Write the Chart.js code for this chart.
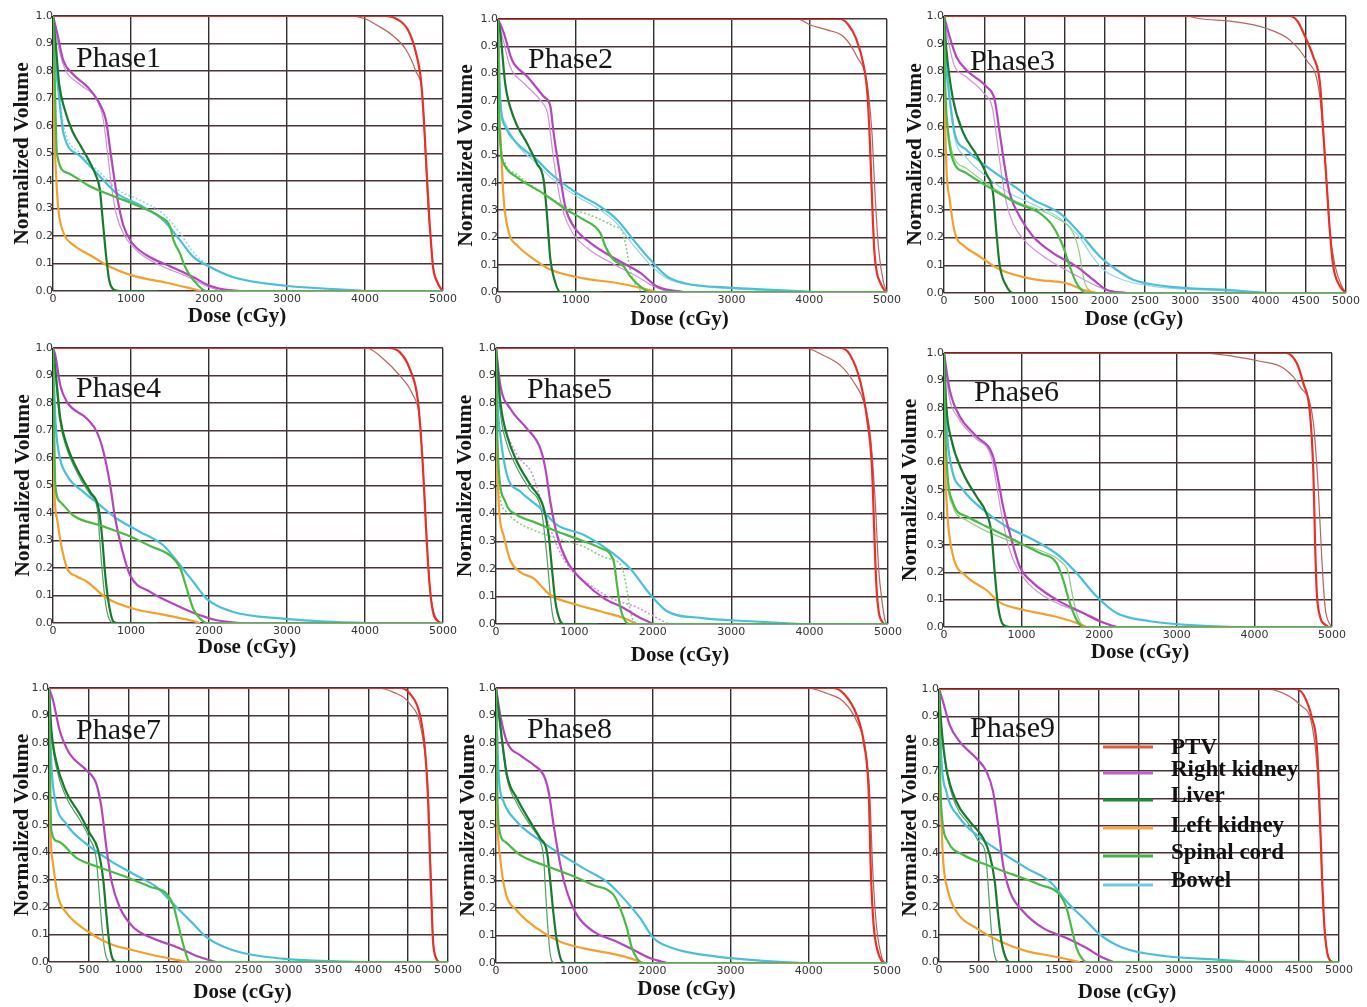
<!DOCTYPE html>
<html><head><meta charset="utf-8">
<script src="https://cdn.jsdelivr.net/npm/chart.js@4.4.1/dist/chart.umd.min.js"></script>
<style>
html,body{margin:0;padding:0;background:#fff;width:1367px;height:1007px;overflow:hidden;position:relative}
canvas{position:absolute}
</style></head><body>
<script>
// ---------------- DATA ----------------
const ORGANS = ['PTV','Right kidney','Liver','Left kidney','Spinal cord','Bowel'];
const PHASES = ['Phase1','Phase2','Phase3','Phase4','Phase5','Phase6','Phase7','Phase8','Phase9'];
const X_TITLE = 'Dose (cGy)';
const Y_TITLE = 'Normalized Volume';
const DOSE_TICKS_1000 = [0,1000,2000,3000,4000,5000];
const DOSE_TICKS_500 = [0,500,1000,1500,2000,2500,3000,3500,4000,4500,5000];
const VOLUME_TICKS = [0,0.1,0.2,0.3,0.4,0.5,0.6,0.7,0.8,0.9,1.0];

// Phase 1  [dose cGy, normalized volume]
const P1_PTV = [[0,1],[4250,1],[4400,0.99],[4550,0.95],[4650,0.87],[4720,0.76],[4755,0.62],[4778,0.5],[4805,0.36],[4829,0.245],[4850,0.16],[4872,0.087],[4936,0.027],[5000,0]];
const P1_PTV_b = [[0,1],[3800,1],[4000,0.99],[4150,0.967],[4350,0.93],[4520,0.88],[4650,0.8],[4740,0.7],[4775,0.5],[4810,0.3],[4840,0.2],[4880,0.08],[4930,0.03],[4980,0]];
const P1_RK = [[0,1],[60,0.93],[130,0.84],[250,0.79],[450,0.74],[600,0.68],[680,0.62],[730,0.52],[780,0.42],[830,0.33],[900,0.24],[1000,0.18],[1200,0.13],[1500,0.09],[1800,0.05],[2000,0.02],[2200,0.005],[2400,0]];
const P1_RK_b = [[0,1],[60,0.9],[150,0.81],[350,0.75],[550,0.7],[640,0.63],[700,0.5],[750,0.38],[820,0.27],[920,0.2],[1100,0.14],[1400,0.09],[1700,0.055],[1950,0.02],[2150,0]];
const P1_LIV = [[0,1],[40,0.88],[80,0.75],[150,0.66],[250,0.58],[350,0.53],[450,0.48],[550,0.42],[600,0.37],[640,0.25],[680,0.13],[720,0.04],[780,0.005],[850,0],[1350,0]];
const P1_LK = [[0,1],[15,0.62],[40,0.42],[72,0.29],[137,0.21],[250,0.17],[478,0.13],[734,0.087],[1032,0.055],[1459,0.03],[1715,0.013],[1900,0]];
const P1_SC = [[0,1],[20,0.8],[50,0.5],[180,0.43],[478,0.38],[820,0.34],[1118,0.306],[1374,0.27],[1500,0.235],[1545,0.185],[1630,0.135],[1694,0.087],[1800,0.04],[1970,0],[5000,0]];
const P1_BOW = [[0,1],[30,0.85],[72,0.72],[137,0.57],[350,0.49],[605,0.415],[820,0.354],[1118,0.312],[1416,0.257],[1630,0.184],[1800,0.124],[2013,0.087],[2312,0.05],[2952,0.02],[3592,0.007],[4018,0]];
const P1_BOW_b = [[0,1],[30,0.86],[72,0.74],[137,0.6],[350,0.5],[605,0.43],[820,0.37],[1118,0.33],[1416,0.28],[1630,0.21],[1800,0.14],[2013,0.09],[2312,0.05],[2952,0.02],[4000,0]];

// Phase 2
const P2_PTV = [[0,1],[4400,1],[4500,0.98],[4600,0.93],[4700,0.83],[4750,0.72],[4780,0.55],[4800,0.4],[4820,0.25],[4840,0.14],[4870,0.07],[4920,0.03],[4970,0.005],[5000,0]];
const P2_PTV_b = [[0,1],[3843,1],[4015,0.978],[4229,0.96],[4443,0.935],[4614,0.862],[4743,0.765],[4807,0.58],[4850,0.34],[4893,0.155],[4957,0.033],[5000,0]];
const P2_RK = [[0,1],[73,0.95],[180,0.85],[373,0.79],[587,0.716],[673,0.68],[716,0.58],[780,0.46],[866,0.31],[973,0.24],[1187,0.18],[1530,0.118],[1830,0.07],[2044,0.02],[2386,0]];
const P2_RK_b = [[0,1],[70,0.92],[150,0.83],[350,0.76],[550,0.7],[640,0.65],[700,0.52],[760,0.4],[830,0.3],[950,0.22],[1150,0.16],[1500,0.1],[1800,0.055],[2000,0.02],[2200,0]];
const P2_LIV = [[0,1],[30,0.95],[94,0.76],[201,0.64],[373,0.545],[501,0.47],[587,0.41],[630,0.28],[673,0.12],[716,0.055],[800,0],[1350,0]];
const P2_LK = [[0,1],[10,0.7],[30,0.58],[73,0.34],[137,0.22],[250,0.17],[416,0.13],[673,0.082],[1100,0.05],[1530,0.033],[1872,0.013],[2044,0]];
const P2_SC = [[0,1],[10,0.75],[21,0.58],[94,0.46],[244,0.42],[587,0.36],[887,0.3],[1101,0.265],[1315,0.216],[1380,0.167],[1487,0.118],[1615,0.094],[1700,0.057],[1830,0.02],[1958,0],[5000,0]];
const P2_SC_b = [[0,1],[10,0.75],[21,0.6],[94,0.47],[244,0.43],[587,0.36],[887,0.31],[1200,0.28],[1500,0.24],[1600,0.22],[1650,0.16],[1700,0.08],[1760,0.03],[1850,0]];
const P2_BOW = [[0,1],[30,0.7],[94,0.606],[244,0.545],[501,0.484],[673,0.435],[1015,0.362],[1315,0.313],[1530,0.265],[1744,0.19],[1958,0.118],[2172,0.057],[2386,0.033],[3029,0.015],[3672,0.006],[4100,0]];
const P2_BOW_b = [[0,1],[30,0.7],[94,0.62],[244,0.54],[501,0.47],[673,0.42],[1015,0.35],[1315,0.3],[1530,0.25],[1744,0.17],[1958,0.1],[2172,0.05],[2500,0.025],[3000,0.012],[4000,0]];

// Phase 3
const P3_PTV = [[0,1],[4300,1],[4400,0.98],[4469,0.94],[4593,0.853],[4676,0.757],[4718,0.577],[4759,0.397],[4801,0.216],[4842,0.096],[4925,0.024],[5000,0]];
const P3_PTV_b = [[0,1],[3000,1],[3183,0.99],[3598,0.98],[4012,0.955],[4303,0.913],[4510,0.84],[4656,0.745],[4718,0.58],[4801,0.22],[4863,0.1],[4946,0.025],[5000,0]];
const P3_RK = [[0,1],[70,0.925],[154,0.853],[278,0.805],[527,0.745],[631,0.697],[693,0.577],[755,0.457],[817,0.36],[942,0.276],[1108,0.204],[1357,0.144],[1647,0.096],[1855,0.048],[2021,0.012],[2270,0]];
const P3_RK_b = [[0,1],[60,0.9],[130,0.82],[280,0.78],[500,0.72],[600,0.67],[660,0.55],[720,0.42],[780,0.32],[860,0.25],[1000,0.19],[1300,0.12],[1600,0.07],[1900,0.025],[2150,0]];
const P3_LIV = [[0,1],[29,0.88],[112,0.7],[237,0.58],[402,0.5],[527,0.43],[610,0.36],[651,0.22],[693,0.1],[776,0.025],[860,0],[1500,0]];
const P3_LK = [[0,1],[10,0.7],[29,0.46],[70,0.34],[133,0.22],[250,0.17],[402,0.14],[693,0.085],[1108,0.05],[1523,0.035],[1730,0.012],[1900,0]];
const P3_SC = [[0,1],[15,0.75],[50,0.58],[112,0.48],[278,0.433],[610,0.373],[900,0.325],[1191,0.288],[1357,0.24],[1481,0.168],[1564,0.096],[1647,0.036],[1772,0],[5000,0]];
const P3_SC_b = [[0,1],[15,0.75],[50,0.6],[112,0.5],[278,0.45],[610,0.38],[900,0.33],[1191,0.3],[1400,0.27],[1600,0.22],[1680,0.15],[1720,0.08],[1760,0.03],[1850,0]];
const P3_BOW = [[0,1],[20,0.85],[50,0.757],[133,0.577],[278,0.517],[527,0.457],[817,0.397],[1108,0.337],[1440,0.288],[1689,0.216],[1938,0.132],[2145,0.084],[2353,0.048],[2768,0.024],[3598,0.01],[4012,0]];
const P3_BOW_b = [[0,1],[20,0.84],[50,0.74],[133,0.56],[278,0.49],[527,0.42],[817,0.36],[1108,0.32],[1440,0.27],[1689,0.2],[1850,0.13],[2000,0.08],[2250,0.045],[2700,0.02],[3500,0.008],[4000,0]];

// Phase 4
const P4_PTV = [[0,1],[4300,1],[4445,0.985],[4573,0.925],[4680,0.804],[4744,0.561],[4787,0.32],[4829,0.137],[4872,0.04],[4957,0]];
const P4_PTV_b = [[0,1],[4019,1],[4232,0.961],[4445,0.9],[4616,0.828],[4701,0.743],[4744,0.56],[4829,0.137],[4915,0.016],[5000,0]];
const P4_RK = [[0,1],[30,0.973],[94,0.864],[179,0.804],[435,0.743],[563,0.694],[648,0.622],[734,0.5],[798,0.379],[883,0.27],[990,0.173],[1246,0.113],[1587,0.064],[1886,0.028],[2099,0.01],[2398,0]];
const P4_LIV = [[0,1],[30,0.925],[94,0.743],[179,0.646],[350,0.537],[478,0.476],[585,0.416],[627,0.32],[670,0.173],[712,0.076],[776,0.004],[820,0],[1350,0]];
const P4_LIV_b = [[0,1],[25,0.92],[85,0.74],[170,0.64],[340,0.53],[470,0.47],[570,0.41],[600,0.3],[640,0.16],[680,0.06],[740,0.005],[790,0]];
const P4_LK = [[0,1],[9,0.56],[51,0.38],[94,0.3],[179,0.2],[300,0.17],[435,0.15],[691,0.09],[1032,0.052],[1459,0.028],[1757,0.01],[1886,0]];
const P4_SC = [[0,1],[15,0.7],[30,0.5],[94,0.44],[264,0.39],[606,0.355],[947,0.32],[1246,0.28],[1502,0.245],[1630,0.2],[1715,0.125],[1800,0.05],[1886,0.016],[1971,0],[5000,0]];
const P4_BOW = [[0,1],[30,0.743],[73,0.622],[179,0.537],[393,0.476],[606,0.428],[819,0.379],[1118,0.331],[1416,0.282],[1630,0.21],[1800,0.149],[1971,0.088],[2312,0.04],[2952,0.016],[3592,0.004],[4019,0]];

// Phase 5
const P5_PTV = [[0,1],[4400,1],[4520,0.973],[4648,0.877],[4732,0.745],[4796,0.564],[4826,0.323],[4851,0.142],[4881,0.046],[4945,0]];
const P5_PTV_b = [[0,1],[3924,1],[4179,0.973],[4392,0.937],[4562,0.877],[4690,0.805],[4775,0.684],[4838,0.44],[4881,0.2],[4924,0.082],[4966,0.01],[5000,0]];
const P5_RK = [[0,1],[55,0.865],[183,0.78],[395,0.708],[565,0.636],[629,0.564],[693,0.443],[778,0.323],[906,0.227],[1118,0.154],[1373,0.094],[1628,0.058],[1841,0.022],[2011,0]];
const P5_RK_b = [[0,1],[40,0.85],[100,0.72],[200,0.65],[300,0.6],[450,0.55],[550,0.47],[650,0.38],[800,0.27],[950,0.2],[1200,0.14],[1500,0.09],[1800,0.06],[2000,0.03],[2200,0]];
const P5_LIV = [[0,1],[55,0.805],[140,0.684],[268,0.588],[438,0.504],[608,0.42],[672,0.323],[714,0.2],[757,0.082],[820,0.01],[863,0],[1300,0]];
const P5_LIV_b = [[0,1],[50,0.78],[130,0.66],[260,0.57],[420,0.49],[580,0.41],[630,0.3],[670,0.18],[700,0.08],[740,0.01],[780,0]];
const P5_LK = [[0,1],[10,0.7],[34,0.44],[98,0.32],[183,0.23],[300,0.19],[480,0.165],[693,0.105],[1033,0.07],[1331,0.046],[1628,0.022],[1800,0]];
const P5_SC = [[0,1],[15,0.7],[34,0.564],[119,0.443],[268,0.395],[480,0.37],[778,0.335],[1118,0.3],[1331,0.275],[1501,0.227],[1543,0.142],[1586,0.058],[1650,0.01],[1713,0],[5000,0]];
const P5_SC_b = [[0,1],[15,0.7],[34,0.5],[119,0.41],[268,0.37],[480,0.34],[778,0.31],[1118,0.28],[1400,0.24],[1600,0.21],[1660,0.14],[1700,0.07],[1740,0.02],[1780,0]];
const P5_BOW = [[0,1],[20,0.8],[55,0.684],[140,0.54],[310,0.48],[565,0.42],[778,0.359],[1118,0.323],[1458,0.263],[1713,0.2],[1969,0.106],[2181,0.046],[2606,0.022],[3244,0.01],[3882,0]];

// Phase 6
const P6_PTV = [[0,1],[4400,1],[4544,0.964],[4630,0.89],[4716,0.781],[4760,0.562],[4781,0.319],[4802,0.136],[4845,0.039],[4910,0.009],[4953,0]];
const P6_PTV_b = [[0,1],[3297,1],[3727,0.988],[4071,0.97],[4372,0.945],[4587,0.878],[4760,0.745],[4824,0.5],[4867,0.258],[4910,0.075],[4974,0.009],[5000,0]];
const P6_RK = [[0,1],[73,0.866],[202,0.769],[417,0.696],[632,0.623],[697,0.538],[761,0.44],[847,0.343],[976,0.221],[1148,0.161],[1449,0.1],[1793,0.051],[2008,0.021],[2223,0]];
const P6_RK_b = [[0,1],[60,0.85],[190,0.76],[400,0.69],[610,0.62],[670,0.53],[730,0.43],[800,0.33],[900,0.24],[1050,0.17],[1300,0.11],[1600,0.07],[1900,0.04],[2100,0.01],[2250,0]];
const P6_LIV = [[0,1],[30,0.805],[95,0.684],[245,0.562],[417,0.477],[546,0.416],[611,0.343],[654,0.197],[697,0.075],[761,0.009],[847,0],[1500,0]];
const P6_LK = [[0,1],[5,0.7],[17,0.56],[52,0.38],[116,0.26],[288,0.185],[546,0.135],[718,0.09],[1019,0.063],[1406,0.04],[1707,0.015],[1836,0]];
const P6_SC = [[0,1],[10,0.8],[30,0.623],[116,0.453],[288,0.404],[546,0.367],[890,0.319],[1234,0.27],[1449,0.234],[1535,0.173],[1621,0.088],[1707,0.027],[1793,0],[5000,0]];
const P6_SC_b = [[0,1],[10,0.8],[30,0.6],[116,0.44],[288,0.39],[546,0.35],[890,0.31],[1234,0.28],[1500,0.24],[1600,0.2],[1640,0.14],[1700,0.06],[1760,0.015],[1820,0]];
const P6_BOW = [[0,1],[30,0.745],[95,0.586],[245,0.501],[503,0.428],[804,0.367],[1148,0.319],[1492,0.258],[1707,0.197],[1965,0.112],[2223,0.051],[2653,0.021],[3297,0.005],[3727,0]];

// Phase 7
const P7_PTV = [[0,1],[4400,1],[4520,0.98],[4645,0.906],[4708,0.785],[4749,0.602],[4770,0.42],[4791,0.237],[4812,0.079],[4854,0.012],[4887,0]];
const P7_PTV_b = [[0,1],[4102,1],[4311,0.985],[4520,0.943],[4666,0.845],[4749,0.627],[4787,0.3],[4812,0.08],[4875,0]];
const P7_RK = [[0,1],[50,0.955],[134,0.845],[259,0.76],[468,0.7],[593,0.65],[656,0.566],[718,0.42],[781,0.298],[886,0.2],[1053,0.128],[1262,0.091],[1596,0.055],[1888,0.018],[2097,0]];
const P7_LIV = [[0,1],[29,0.85],[92,0.73],[217,0.62],[384,0.54],[510,0.47],[614,0.41],[680,0.3],[720,0.17],[760,0.06],[800,0.01],[850,0],[1300,0]];
const P7_LIV_b = [[0,1],[29,0.84],[92,0.71],[217,0.6],[384,0.52],[510,0.45],[590,0.38],[630,0.25],[660,0.14],[700,0.04],[740,0.005],[780,0]];
const P7_LK = [[0,1],[8,0.6],[50,0.36],[113,0.24],[217,0.18],[468,0.115],[760,0.067],[1053,0.043],[1387,0.02],[1600,0.008],[1750,0]];
const P7_SC = [[0,1],[10,0.75],[29,0.48],[113,0.44],[343,0.38],[635,0.345],[969,0.31],[1262,0.275],[1470,0.25],[1554,0.21],[1637,0.115],[1700,0.045],[1763,0],[5000,0]];
const P7_BOW = [[0,1],[29,0.724],[71,0.602],[217,0.504],[468,0.431],[760,0.371],[1053,0.322],[1345,0.274],[1554,0.213],[1805,0.14],[1972,0.091],[2306,0.043],[2932,0.012],[3559,0.003],[3977,0]];

// Phase 8
const P8_PTV = [[0,1],[4300,1],[4446,0.98],[4616,0.9],[4702,0.804],[4766,0.622],[4795,0.32],[4829,0.138],[4872,0.053],[4936,0.005],[4957,0]];
const P8_PTV_b = [[0,1],[3977,1],[4233,0.98],[4446,0.95],[4616,0.877],[4723,0.78],[4778,0.62],[4821,0.32],[4864,0.138],[4936,0.017],[4979,0]];
const P8_RK = [[0,1],[55,0.9],[141,0.804],[311,0.755],[482,0.72],[610,0.683],[674,0.622],[737,0.501],[823,0.356],[908,0.259],[1036,0.174],[1249,0.114],[1547,0.077],[1803,0.041],[1974,0.017],[2187,0]];
const P8_LIV = [[0,1],[55,0.864],[141,0.683],[269,0.598],[439,0.513],[567,0.453],[652,0.404],[695,0.295],[737,0.174],[780,0.077],[844,0.005],[887,0],[1400,0]];
const P8_LIV_b = [[0,1],[55,0.85],[141,0.67],[269,0.58],[439,0.5],[567,0.44],[610,0.38],[630,0.28],[660,0.14],[690,0.04],[720,0.005],[760,0]];
const P8_LK = [[0,1],[5,0.7],[13,0.56],[55,0.38],[119,0.26],[269,0.19],[524,0.126],[823,0.077],[1121,0.053],[1462,0.035],[1718,0.017],[1888,0]];
const P8_SC = [[0,1],[12,0.7],[34,0.501],[119,0.44],[311,0.392],[610,0.356],[951,0.32],[1249,0.283],[1505,0.247],[1590,0.198],[1675,0.126],[1739,0.053],[1803,0.017],[1867,0],[5000,0]];
const P8_BOW = [[0,1],[34,0.683],[98,0.586],[269,0.513],[524,0.453],[780,0.404],[1121,0.344],[1419,0.295],[1633,0.235],[1846,0.162],[2016,0.09],[2272,0.053],[2826,0.023],[3466,0.007],[3892,0]];

// Phase 9
const P9_PTV = [[0,1],[4450,1],[4558,0.978],[4662,0.893],[4725,0.783],[4758,0.563],[4787,0.32],[4816,0.137],[4850,0.039],[4891,0.005],[4933,0]];
const P9_PTV_b = [[0,1],[4057,1],[4307,0.984],[4516,0.941],[4662,0.868],[4733,0.685],[4770,0.45],[4800,0.22],[4830,0.08],[4880,0.01],[4920,0]];
const P9_RK = [[0,1],[50,0.954],[134,0.868],[259,0.807],[467,0.746],[593,0.698],[676,0.624],[739,0.502],[801,0.356],[885,0.259],[1052,0.185],[1302,0.124],[1594,0.088],[1845,0.051],[2012,0.021],[2179,0]];
const P9_LIV = [[0,1],[29,0.868],[92,0.71],[217,0.588],[384,0.515],[551,0.454],[634,0.393],[697,0.295],[739,0.173],[780,0.076],[843,0.009],[885,0],[1400,0]];
const P9_LIV_b = [[0,1],[29,0.86],[92,0.7],[217,0.57],[384,0.5],[500,0.44],[580,0.4],[610,0.3],[640,0.17],[670,0.07],[710,0.01],[750,0]];
const P9_LK = [[0,1],[8,0.7],[17,0.62],[50,0.38],[113,0.26],[217,0.185],[467,0.124],[760,0.076],[1093,0.04],[1427,0.021],[1761,0]];
const P9_SC = [[0,1],[10,0.75],[29,0.563],[113,0.441],[301,0.393],[593,0.356],[927,0.32],[1260,0.283],[1511,0.246],[1594,0.198],[1657,0.124],[1720,0.051],[1782,0.015],[1845,0],[5000,0]];
const P9_BOW = [[0,1],[29,0.746],[92,0.624],[259,0.527],[467,0.466],[760,0.405],[1093,0.344],[1386,0.295],[1594,0.222],[1845,0.149],[2012,0.1],[2304,0.051],[2846,0.021],[3472,0.009],[3890,0]];

// per-phase tables (order follows ORGANS)
const MAIN_SERIES = [
  [P1_PTV,P1_RK,P1_LIV,P1_LK,P1_SC,P1_BOW],
  [P2_PTV,P2_RK,P2_LIV,P2_LK,P2_SC,P2_BOW],
  [P3_PTV,P3_RK,P3_LIV,P3_LK,P3_SC,P3_BOW],
  [P4_PTV,P4_RK,P4_LIV,P4_LK,P4_SC,P4_BOW],
  [P5_PTV,P5_RK,P5_LIV,P5_LK,P5_SC,P5_BOW],
  [P6_PTV,P6_RK,P6_LIV,P6_LK,P6_SC,P6_BOW],
  [P7_PTV,P7_RK,P7_LIV,P7_LK,P7_SC,P7_BOW],
  [P8_PTV,P8_RK,P8_LIV,P8_LK,P8_SC,P8_BOW],
  [P9_PTV,P9_RK,P9_LIV,P9_LK,P9_SC,P9_BOW]
];
const ALT_SERIES = [
  [P1_PTV_b,P1_RK_b,null,null,null,P1_BOW_b],
  [P2_PTV_b,P2_RK_b,null,null,P2_SC_b,P2_BOW_b],
  [P3_PTV_b,P3_RK_b,null,null,P3_SC_b,P3_BOW_b],
  [P4_PTV_b,null,P4_LIV_b,null,null,null],
  [P5_PTV_b,P5_RK_b,P5_LIV_b,null,P5_SC_b,null],
  [P6_PTV_b,P6_RK_b,null,null,P6_SC_b,null],
  [P7_PTV_b,null,P7_LIV_b,null,null,null],
  [P8_PTV_b,null,P8_LIV_b,null,null,null],
  [P9_PTV_b,null,P9_LIV_b,null,null,null]
];
const TICK_SET = [DOSE_TICKS_1000,DOSE_TICKS_1000,DOSE_TICKS_500,DOSE_TICKS_1000,DOSE_TICKS_1000,DOSE_TICKS_1000,DOSE_TICKS_500,DOSE_TICKS_1000,DOSE_TICKS_500];

// ---------------- STYLE / LAYOUT ----------------
const MAIN_COLORS = ['#e8302a','#b247bc','#177a2d','#f2a12e','#4cb847','#4bbfda'];
const ALT_COLORS  = ['#b8635c','#d290da','#4f9f62','#f6c274','#8bd07f','#93d7ea'];
const LEGEND_COLORS = ['#e2583e','#c060c8','#1f8a3e','#f8a848','#44b24a','#70c8e2'];
const DRAW_ORDER = [5,3,1,2,0,4]; // lower = on top
const DOTTED_ALT = ['0-5','1-4','4-1','4-4']; // phase-organ pairs drawn dotted
const GEOM = [
 {x0:52.7,x1:443.3,yt:16,yb:290.7, ydx:31,xdx:-11,xdy:26,pdx:23,pdy:51},
 {x0:497.7,x1:886.7,yt:19,yb:292.3, ydx:32,xdx:-13,xdy:28,pdx:30,pdy:49},
 {x0:944.3,x1:1346,yt:16,yb:293.3, ydx:29,xdx:-11,xdy:27,pdx:26,pdy:54},
 {x0:52.7,x1:443.3,yt:347.7,yb:622.7, ydx:30,xdx:-1,xdy:25,pdx:23,pdy:49},
 {x0:495.7,x1:887.7,yt:347.7,yb:624.3, ydx:31,xdx:-12,xdy:32,pdx:31,pdy:50},
 {x0:944.3,x1:1332,yt:353.3,yb:627.3, ydx:34,xdx:2,xdy:26,pdx:30,pdy:48},
 {x0:49.3,x1:448.3,yt:687.7,yb:961.7, ydx:27,xdx:-6,xdy:31,pdx:27,pdy:51},
 {x0:495.7,x1:886.7,yt:687.7,yb:963, ydx:28,xdx:-5,xdy:27,pdx:31,pdy:50},
 {x0:939.3,x1:1338.7,yt:689,yb:962.3, ydx:29,xdx:-12,xdy:31,pdx:31,pdy:48}
];
const LEGEND_LAYOUT = {lx0:164, lx1:214, tx:232, lineY:[58,84,111,139,167,196], baseY:[65,87,113,143,170,198]};
const ML = 52, MR = 24, TM = 14, MB = 50;

Chart.defaults.font.family = '"DejaVu Sans", sans-serif';

const panelDecor = {
  id: 'panelDecor',
  afterDraw(chart, args, opts) {
    const ctx = chart.ctx, a = chart.chartArea, g = opts.g;
    ctx.save();
    ctx.fillStyle = '#151515';
    ctx.font = '30px "Liberation Serif"';
    ctx.textAlign = 'left'; ctx.textBaseline = 'alphabetic';
    ctx.fillText(opts.phase, a.left + g.pdx, a.top + g.pdy);
    ctx.font = 'bold 21px "Liberation Serif"';
    ctx.textAlign = 'center'; ctx.textBaseline = 'middle';
    ctx.fillText(X_TITLE, (a.left + a.right) / 2 + g.xdx, a.bottom + g.xdy);
    ctx.save();
    ctx.translate(a.left - g.ydx, (a.top + a.bottom) / 2);
    ctx.rotate(-Math.PI / 2);
    ctx.font = 'bold 21.5px "Liberation Serif"';
    ctx.fillText(Y_TITLE, 0, 0);
    ctx.restore();
    if (opts.legend) {
      const L = LEGEND_LAYOUT;
      ctx.font = 'bold 23px "Liberation Serif"';
      ctx.textAlign = 'left'; ctx.textBaseline = 'alphabetic';
      ORGANS.forEach((name, i) => {
        ctx.strokeStyle = LEGEND_COLORS[i];
        ctx.lineWidth = 3;
        ctx.beginPath();
        ctx.moveTo(a.left + L.lx0, a.top + L.lineY[i]);
        ctx.lineTo(a.left + L.lx1, a.top + L.lineY[i]);
        ctx.stroke();
        ctx.fillStyle = '#111';
        ctx.fillText(name, a.left + L.tx, a.top + L.baseY[i]);
      });
    }
    ctx.restore();
  }
};

PHASES.forEach((phase, p) => {
  const g = GEOM[p];
  const px0 = Math.round(g.x0), px1 = Math.round(g.x1), pyt = Math.round(g.yt), pyb = Math.round(g.yb);
  const cv = document.createElement('canvas');
  const W = ML + (px1 - px0) + MR, H = TM + (pyb - pyt) + MB;
  cv.width = W; cv.height = H;
  cv.style.width = W + 'px'; cv.style.height = H + 'px';
  cv.style.left = (px0 - ML) + 'px'; cv.style.top = (pyt - TM) + 'px';
  document.body.appendChild(cv);

  const datasets = [];
  ORGANS.forEach((organ, i) => {
    const alt = ALT_SERIES[p][i];
    if (alt) datasets.push({
      label: organ + ' (b)', data: alt.map(d => ({x: d[0], y: d[1]})),
      borderColor: ALT_COLORS[i], borderWidth: DOTTED_ALT.includes(p + '-' + i) ? 1.6 : 1.2,
      borderDash: DOTTED_ALT.includes(p + '-' + i) ? [2, 2] : [],
      order: 10 + DRAW_ORDER[i]
    });
    datasets.push({
      label: organ, data: MAIN_SERIES[p][i].map(d => ({x: d[0], y: d[1]})),
      borderColor: MAIN_COLORS[i], borderWidth: 2.2, order: DRAW_ORDER[i]
    });
  });
  const xt = TICK_SET[p];

  new Chart(cv, {
    type: 'line',
    data: {datasets},
    options: {
      responsive: false, animation: false, devicePixelRatio: 1,
      layout: {padding: {left: 0, top: TM, right: MR, bottom: 0}, autoPadding: false},
      elements: {point: {radius: 0}, line: {cubicInterpolationMode: 'monotone', fill: false}},
      plugins: {legend: {display: false}, tooltip: {enabled: false},
        panelDecor: {g, phase, legend: p === 8}},
      scales: {
        x: {type: 'linear', min: 0, max: 5000,
          afterBuildTicks: s => { s.ticks = xt.map(v => ({value: v})); },
          afterFit: s => { s.height = MB; },
          ticks: {padding: 2, color: '#333', font: {size: 11}, maxRotation: 0, autoSkip: false, callback: v => String(v)},
          grid: {color: '#2f2f2f', lineWidth: 1.4, drawTicks: false},
          border: {display: false}},
        y: {type: 'linear', min: 0, max: 1,
          afterBuildTicks: s => { s.ticks = VOLUME_TICKS.map(v => ({value: v})); },
          afterFit: s => { s.width = ML; },
          ticks: {padding: 0, color: '#333', font: {size: 11}, callback: v => v.toFixed(1)},
          grid: {color: '#4a3434', lineWidth: 1.4, drawTicks: false},
          border: {display: false}}
      }
    },
    plugins: [panelDecor]
  });
});
</script></body></html>
